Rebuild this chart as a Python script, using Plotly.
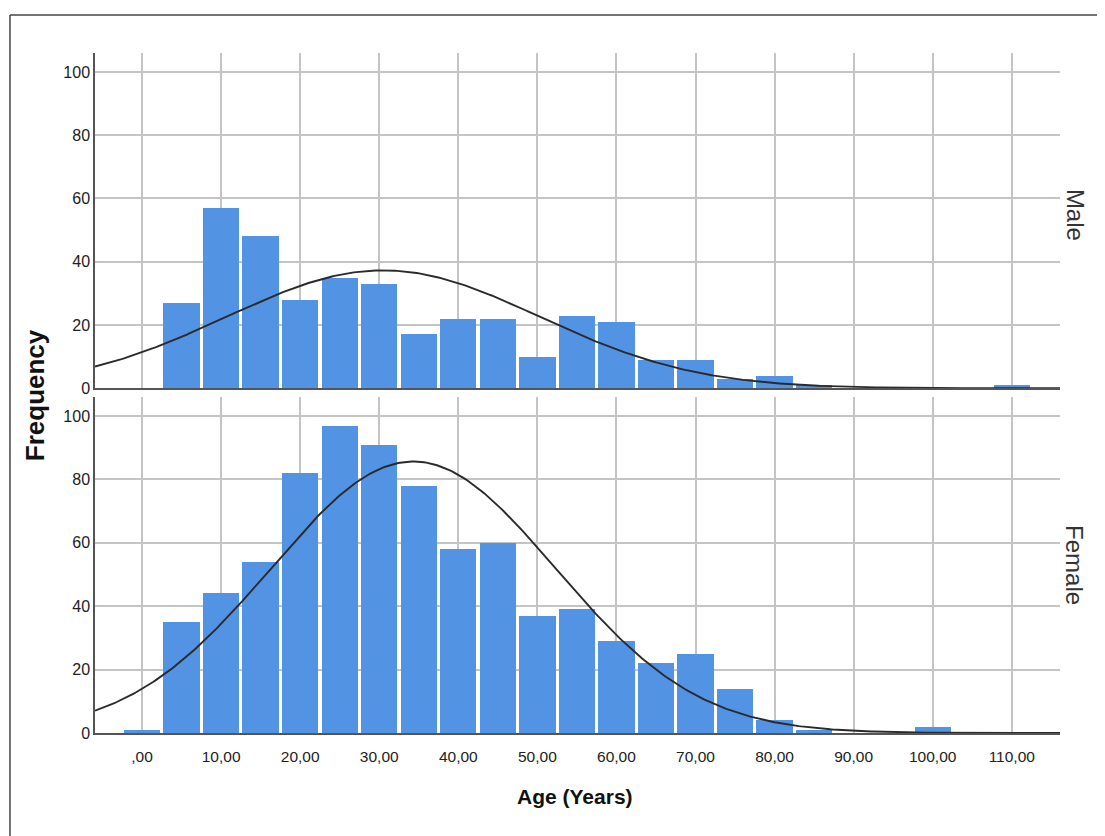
import numpy as np
import plotly.graph_objects as go

# ---------------- data ----------------
tick_vals = [0, 10, 20, 30, 40, 50, 60, 70, 80, 90, 100, 110]
tick_text = [",00", "10,00", "20,00", "30,00", "40,00", "50,00", "60,00",
             "70,00", "80,00", "90,00", "100,00", "110,00"]
y_ticks = [0, 20, 40, 60, 80, 100]

male_age = [5, 10, 15, 20, 25, 30, 35, 40, 45, 50, 55, 60, 65, 70, 75, 80, 85, 110]
male_freq = [27, 57, 48, 28, 35, 33, 17, 22, 22, 10, 23, 21, 9, 9, 3, 4, 1, 1]

female_age = [0, 5, 10, 15, 20, 25, 30, 35, 40, 45, 50, 55, 60, 65, 70, 75, 80, 85, 100]
female_freq = [1, 35, 44, 54, 82, 97, 91, 78, 58, 60, 37, 39, 29, 22, 25, 14, 4, 1, 2]

bin_width = 5
male_mean, male_sd = 30.5, 19.8
female_mean, female_sd = 34.3, 18.0

# ---------------- styling ----------------
BAR = "#5393e3"
GRID = "#c4c4c4"
AXIS = "#555555"
FONT = "Liberation Sans, Arial, sans-serif"
X_RANGE = [-5.95, 116.1]
Y_RANGE = [0, 106]


def normal_curve(mean, sd, counts):
    n = sum(counts)
    xs = np.linspace(X_RANGE[0], X_RANGE[1], 400)
    ys = n * bin_width / (sd * np.sqrt(2 * np.pi)) * np.exp(-0.5 * ((xs - mean) / sd) ** 2)
    return xs, ys


fig = go.Figure()

fig.add_trace(go.Bar(x=male_age, y=male_freq, width=bin_width * 0.92,
                     marker=dict(color=BAR, line=dict(width=0)),
                     xaxis="x", yaxis="y", showlegend=False))
mx, my = normal_curve(male_mean, male_sd, male_freq)
fig.add_trace(go.Scatter(x=mx, y=my, mode="lines", line=dict(color="#2a2a2a", width=1.9),
                         xaxis="x", yaxis="y", showlegend=False))

fig.add_trace(go.Bar(x=female_age, y=female_freq, width=bin_width * 0.92,
                     marker=dict(color=BAR, line=dict(width=0)),
                     xaxis="x2", yaxis="y2", showlegend=False))
fx, fy = normal_curve(female_mean, female_sd, female_freq)
fig.add_trace(go.Scatter(x=fx, y=fy, mode="lines", line=dict(color="#2a2a2a", width=1.9),
                         xaxis="x2", yaxis="y2", showlegend=False))

xaxis_common = dict(range=X_RANGE, tickvals=tick_vals, ticktext=tick_text,
                    showgrid=True, gridcolor=GRID, gridwidth=1.6,
                    showline=True, linecolor=AXIS, linewidth=2,
                    zeroline=False, ticks="", fixedrange=True,
                    tickfont=dict(family=FONT, size=15.5, color="#222222"))
yaxis_common = dict(range=Y_RANGE, tickvals=y_ticks,
                    showgrid=True, gridcolor=GRID, gridwidth=1.6,
                    showline=True, linecolor=AXIS, linewidth=1.5,
                    zeroline=False, ticks="",
                    tickfont=dict(family=FONT, size=16, color="#222222"))

fig.update_layout(
    width=1097, height=828,
    margin=dict(l=87, r=45, t=45, b=103),
    paper_bgcolor="white", plot_bgcolor="white",
    bargap=0,
    xaxis=dict(**xaxis_common, anchor="y", showticklabels=False),
    yaxis=dict(**yaxis_common, domain=[0.507, 1.0], anchor="x"),
    xaxis2=dict(**xaxis_common, anchor="y2", showticklabels=True, ticklabelstandoff=8),
    yaxis2=dict(**yaxis_common, domain=[0.0, 0.494], anchor="x2"),
    annotations=[
        dict(text="<b>Age (Years)</b>", x=0.497, y=-0.094, xref="paper", yref="paper",
             xanchor="center", yanchor="middle",
             showarrow=False, font=dict(family=FONT, size=21, color="#111111")),
        dict(text="<b>Frequency</b>", x=-0.062, y=0.497, xref="paper", yref="paper",
             xanchor="center", yanchor="middle",
             showarrow=False, textangle=-90, font=dict(family=FONT, size=26, color="#111111")),
        dict(text="Male", x=1.0155, y=0.762, xref="paper", yref="paper",
             xanchor="center", yanchor="middle",
             showarrow=False, textangle=90, font=dict(family=FONT, size=24, color="#333333")),
        dict(text="Female", x=1.0155, y=0.247, xref="paper", yref="paper",
             xanchor="center", yanchor="middle",
             showarrow=False, textangle=90, font=dict(family=FONT, size=24, color="#333333")),
    ],
    shapes=[
        dict(type="line", xref="paper", yref="paper", x0=-0.0881, x1=1.06, y0=1.0559, y1=1.0559,
             line=dict(color="#444444", width=1.5)),
        dict(type="line", xref="paper", yref="paper", x0=-0.0881, x1=-0.0881, y0=1.0559, y1=-0.16,
             line=dict(color="#444444", width=1.5)),
    ],
)

fig.write_html("out.html")
